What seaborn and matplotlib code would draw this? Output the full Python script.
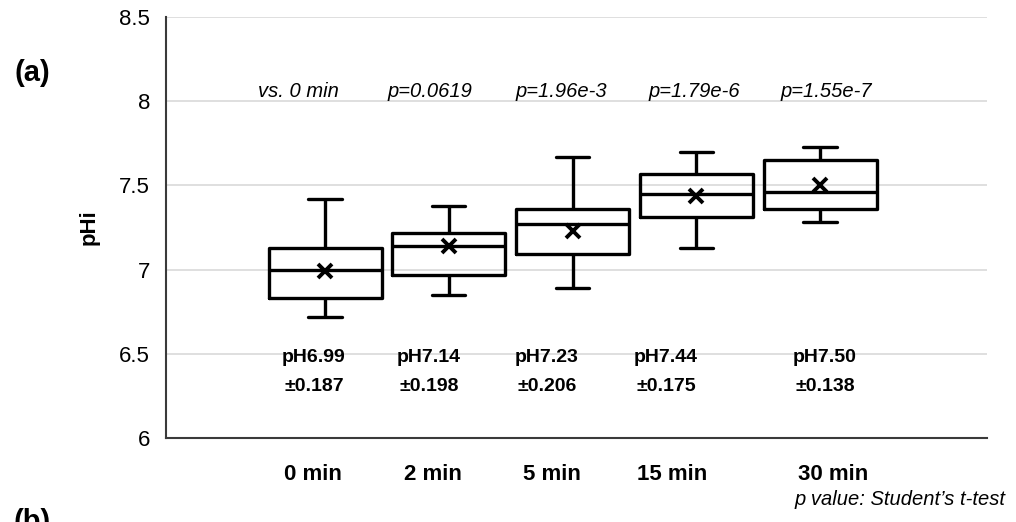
import numpy as np
import pandas as pd
import matplotlib
matplotlib.use("Agg")
import matplotlib.pyplot as plt
import seaborn as sns

# ---------------- data ----------------
categories = ["0 min", "2 min", "5 min", "15 min", "30 min"]
whisker_low = [6.72, 6.85, 6.89, 7.13, 7.28]
quartile_1 = [6.83, 6.97, 7.09, 7.31, 7.36]
medians = [7.00, 7.14, 7.27, 7.45, 7.46]
quartile_3 = [7.13, 7.22, 7.36, 7.57, 7.65]
whisker_high = [7.42, 7.38, 7.67, 7.70, 7.73]
means = [6.99, 7.14, 7.23, 7.44, 7.50]
sds = [0.187, 0.198, 0.206, 0.175, 0.138]
p_labels = ["vs. 0 min", "p=0.0619", "p=1.96e-3", "p=1.79e-6", "p=1.55e-7"]
y_ticks = [6, 6.5, 7, 7.5, 8, 8.5]
y_tick_labels = ["6", "6.5", "7", "7.5", "8", "8.5"]

# ---------------- layout (label placement) ----------------
cat_label_shift = [-0.097, -0.127, -0.166, -0.196, 0.105]
stat_label_shift = [-0.089, -0.160, -0.206, -0.244, 0.040]
p_label_shift = [-0.218, -0.152, -0.093, -0.018, 0.048]

sns.set_theme(style="white")
plt.rcParams["font.family"] = ["Liberation Sans", "DejaVu Sans"]
plt.rcParams["text.color"] = "black"
plt.rcParams["axes.labelcolor"] = "black"
plt.rcParams["xtick.color"] = "black"
plt.rcParams["ytick.color"] = "black"

rows = []
for c, lo, a, m, b, hi in zip(categories, whisker_low, quartile_1, medians,
                              quartile_3, whisker_high):
    for v in (lo, a, m, b, hi):
        rows.append({"time": c, "pHi": v})
df = pd.DataFrame(rows)

W, H = 1016, 522
fig = plt.figure(figsize=(W / 100, H / 100), dpi=100)
ax = fig.add_axes([165.5 / W, 1 - 438 / H, (987 - 165.5) / W, (438 - 17) / H])

sns.boxplot(data=df, x="time", y="pHi", order=categories, width=0.913,
            whis=(0, 100), fill=False, color="black", linecolor="black",
            linewidth=2.4, showfliers=False, capwidths=0.27, ax=ax)

sns.pointplot(x=categories, y=means, order=categories, color="black",
              marker="x", linestyle="none", markersize=10,
              markeredgewidth=2.8, errorbar=None, ax=ax)

ax.set_ylim(6, 8.5)
ax.set_xlim(-1.289, 5.349)
ax.set_yticks(y_ticks, labels=y_tick_labels)
ax.set_xticks(np.arange(len(categories)) + np.array(cat_label_shift),
              labels=categories)
for lab in ax.get_xticklabels():
    lab.set_fontweight("bold")
ax.tick_params(axis="both", length=0, colors="black")
ax.tick_params(axis="y", pad=11, labelsize=16)
ax.tick_params(axis="x", pad=19, labelsize=16)

ax.yaxis.grid(True, color="#d9d9d9", linewidth=1.2)
ax.xaxis.grid(False)
ax.set_axisbelow(True)
for s in ["top", "right"]:
    ax.spines[s].set_visible(False)
for s in ["left", "bottom"]:
    ax.spines[s].set_color("#3a3a3a")
    ax.spines[s].set_linewidth(1.5)

ax.set_xlabel("")
ax.set_ylabel("pHi", fontsize=16, fontweight="bold", labelpad=14)

for i in range(len(categories)):
    ax.text(i + stat_label_shift[i], 6.454, f"pH{means[i]:.2f}",
            ha="center", va="baseline", fontsize=14, fontweight="bold")
    ax.text(i + stat_label_shift[i], 6.282, f"±{sds[i]:.3f}",
            ha="center", va="baseline", fontsize=14, fontweight="bold")
    ax.text(i + p_label_shift[i], 8.026, p_labels[i], ha="center",
            va="baseline", fontsize=14.5, style="italic")

fig.text(32 / W, 1 - 73 / H, "(a)", ha="center", va="center",
         fontsize=21, fontweight="bold")
fig.text(32 / W, 1 - 508 / H, "(b)", ha="center", va="top",
         fontsize=21, fontweight="bold")
fig.text(1005 / W, 1 - 505 / H, "p value: Student\u2019s t-test", ha="right",
         va="baseline", fontsize=14.5, style="italic")

fig.savefig("out.png", dpi=100)
